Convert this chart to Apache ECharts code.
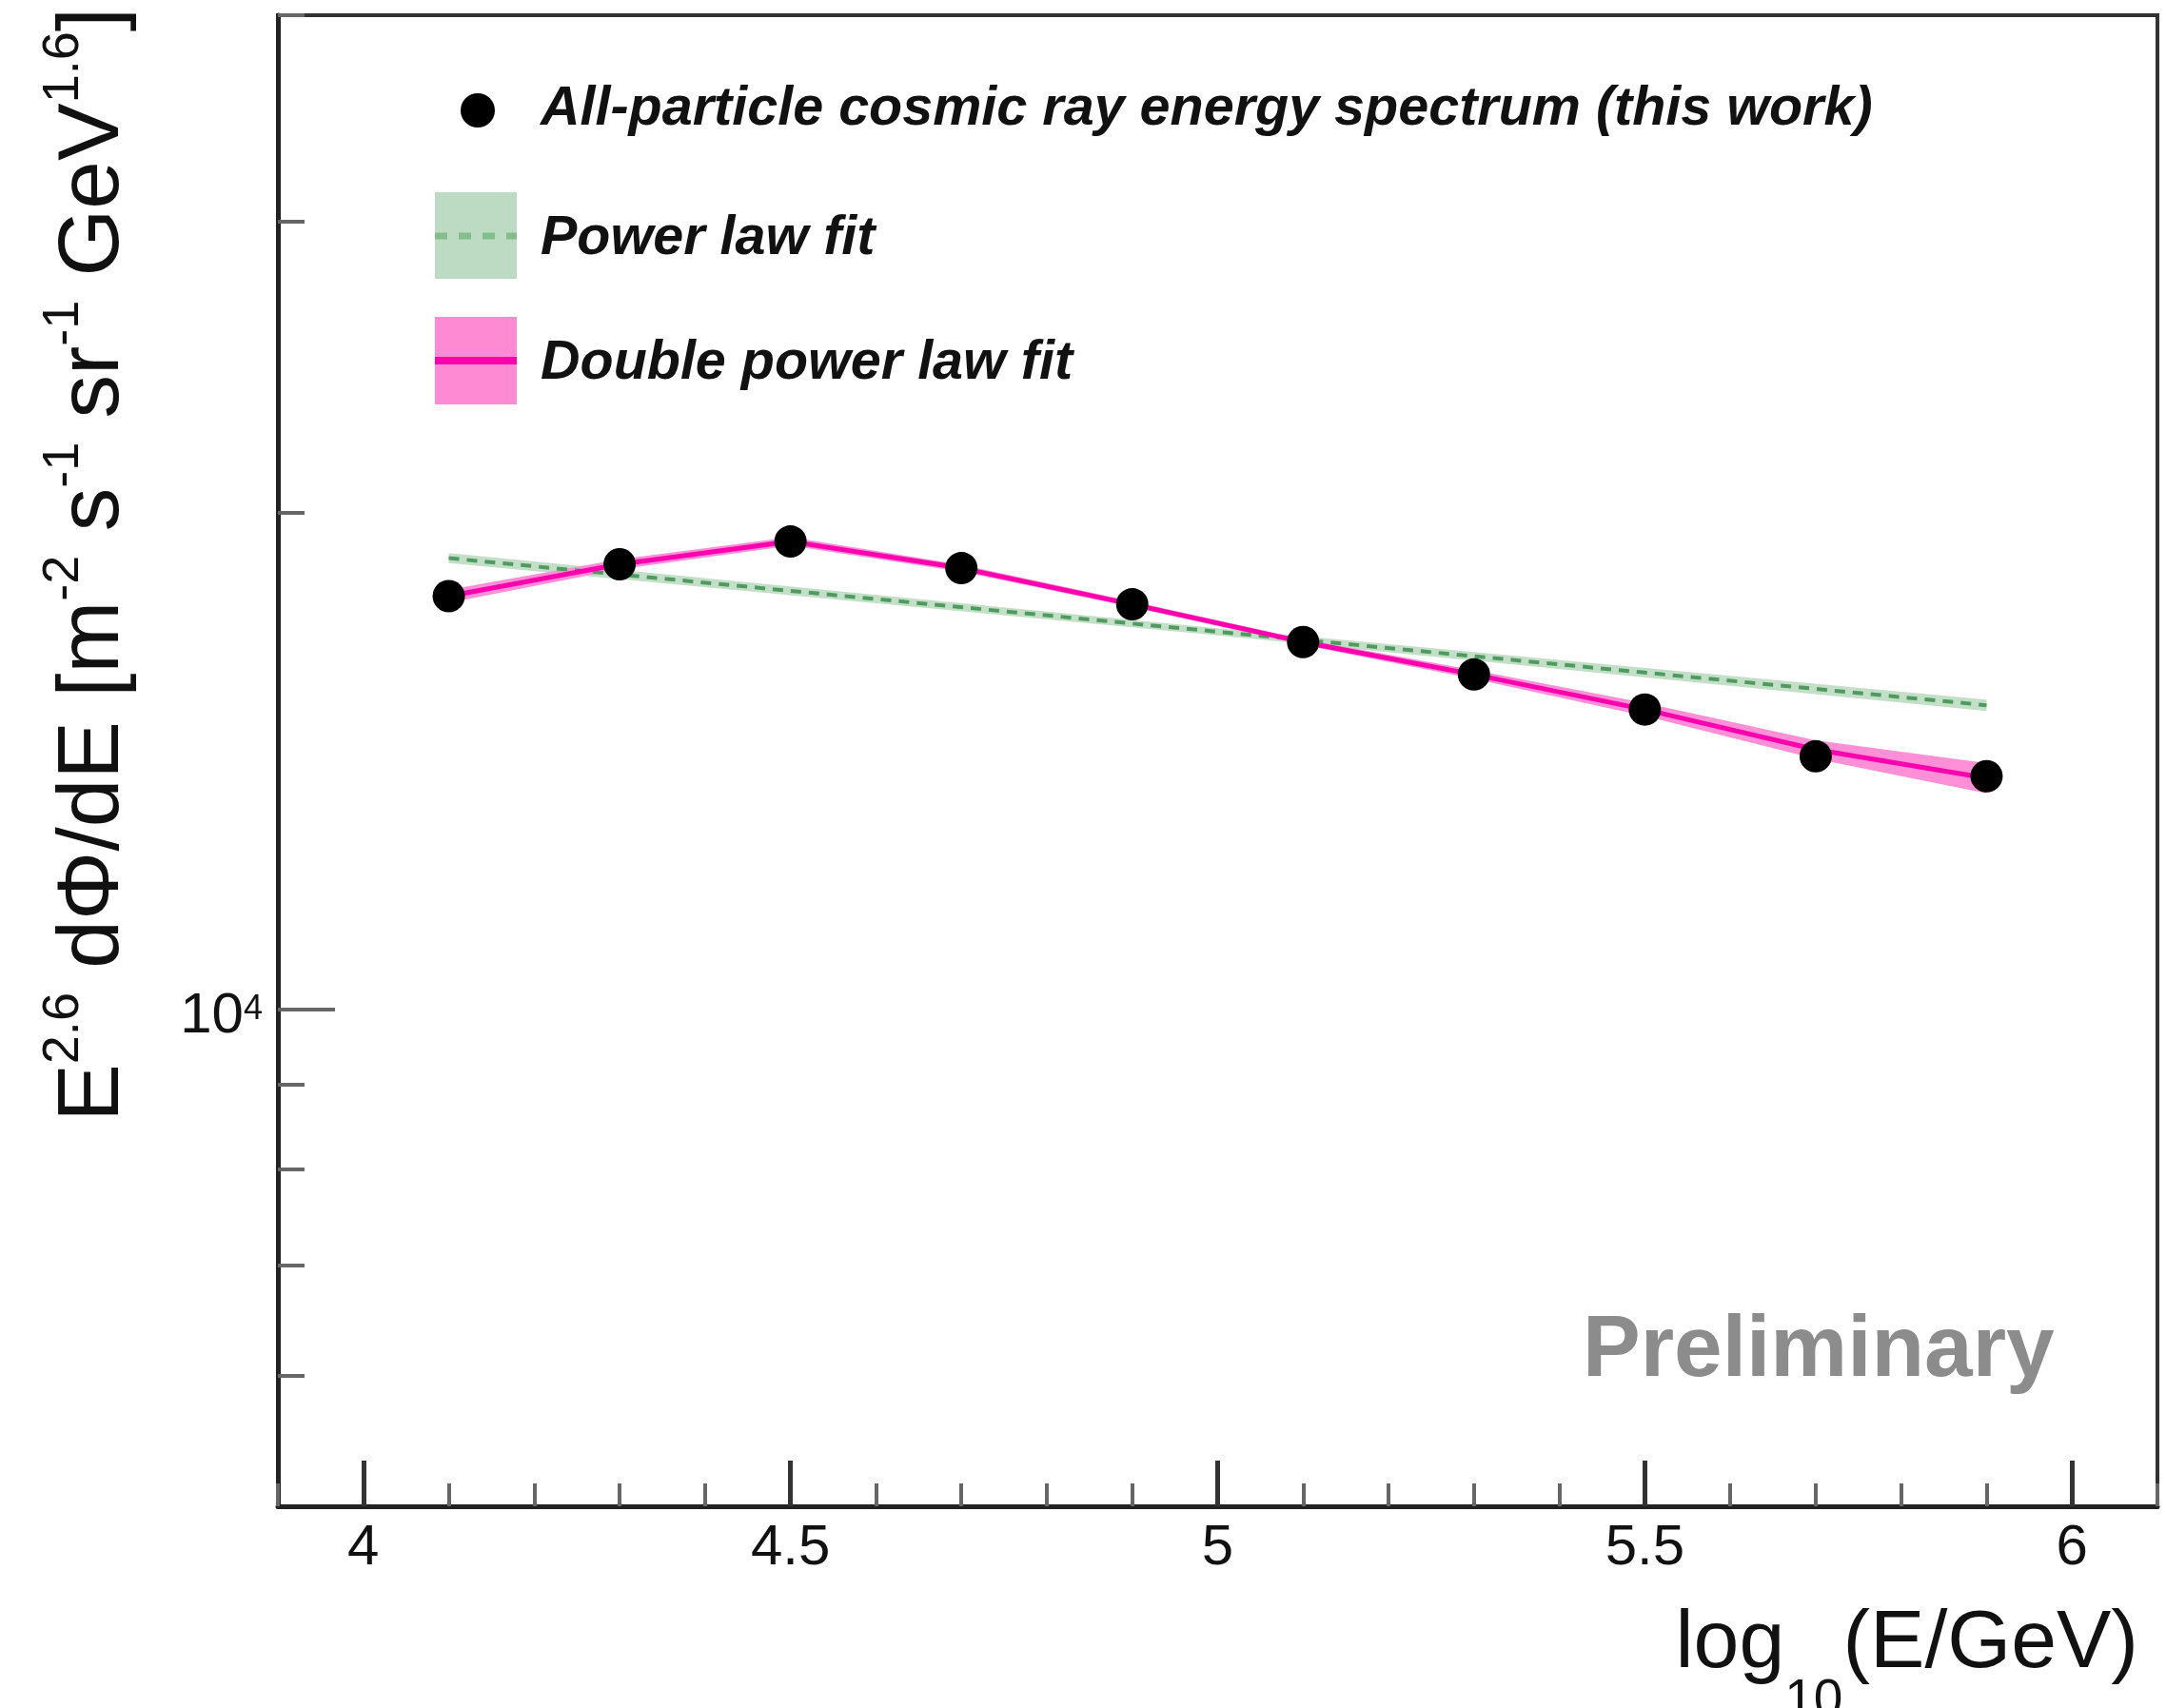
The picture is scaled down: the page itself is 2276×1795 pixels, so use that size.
<!DOCTYPE html>
<html>
<head>
<meta charset="utf-8">
<script src="https://cdn.jsdelivr.net/npm/echarts@6/dist/echarts.min.js"></script>
<style>
html,body{margin:0;padding:0;background:#fff;}
#c{width:2276px;height:1795px;}
</style>
</head>
<body>
<div id="c"></div>
<script>
// ---- data ----
const energyX = [4.1, 4.3, 4.5, 4.7, 4.9, 5.1, 5.3, 5.5, 5.7, 5.9];
const fluxY   = [17790, 18600, 19200, 18500, 17590, 16690, 15950, 15190, 14230, 13840];

const plX    = [4.1, 5.0, 5.9];
const plFit  = [18760, 16930, 15280];
const plLow  = [18630, 16845, 15160];
const plHigh = [18890, 17015, 15400];

const dplX    = [4.1, 4.3, 4.5, 4.7, 4.9, 5.1, 5.3, 5.5, 5.7, 5.9];
const dplFit  = [17790, 18600, 19200, 18500, 17590, 16690, 15950, 15190, 14365, 13805];
const dplLow  = [17630, 18470, 19085, 18410, 17520, 16623, 15854, 15053, 14180, 13515];
const dplHigh = [17950, 18730, 19315, 18590, 17660, 16757, 16046, 15327, 14550, 14095];

const xMajorTicks = [4, 4.5, 5, 5.5, 6];
const xMinorTicks = [3.9, 4.1, 4.2, 4.3, 4.4, 4.6, 4.7, 4.8, 4.9, 5.1, 5.2, 5.3, 5.4, 5.6, 5.7, 5.8, 5.9, 6.1];
const yMajorTicks = [10000];
const yMinorTicks = [6000, 7000, 8000, 9000, 20000, 30000, 40000];

const legendNames = ['All-particle cosmic ray energy spectrum (this work)', 'Power law fit', 'Double power law fit'];

const FONT = 'Liberation Sans, Arial, Helvetica, sans-serif';

function bandSeries(xs, lo, hi, color, z) {
  return {
    type: 'custom', z: z, silent: true,
    data: xs.map((x, i) => [x, lo[i], hi[i]]),
    encode: { x: 0, y: [1, 2] },
    renderItem: function (params, api) {
      if (params.dataIndex !== 0) return;
      const pts = [];
      for (let i = 0; i < xs.length; i++) pts.push(api.coord([xs[i], hi[i]]));
      for (let i = xs.length - 1; i >= 0; i--) pts.push(api.coord([xs[i], lo[i]]));
      return { type: 'polygon', shape: { points: pts }, style: { fill: color } };
    }
  };
}

const chart = echarts.init(document.getElementById('c'), null, { renderer: 'canvas' });
const gridLeft = 292, gridRight = 9, gridTop = 16, gridBottom = 212;

chart.setOption({
  animation: false,
  backgroundColor: '#fff',
  grid: { left: gridLeft, right: gridRight, top: gridTop, bottom: gridBottom, show: true,
          borderColor: '#333', borderWidth: 4, containLabel: false },
  xAxis: [
    { type: 'value', min: 3.9, max: 6.1, position: 'bottom',
      axisLine: { show: true, onZero: false, lineStyle: { color: '#222', width: 5 } },
      axisTick: { show: true, inside: true, length: 48, customValues: xMajorTicks,
                  lineStyle: { color: '#333', width: 5 } },
      axisLabel: { show: true, customValues: xMajorTicks, margin: 14, fontSize: 60,
                   fontFamily: FONT, color: '#111' },
      splitLine: { show: false } },
    { type: 'value', min: 3.9, max: 6.1, position: 'bottom',
      axisLine: { show: false, onZero: false },
      axisTick: { show: true, inside: true, length: 24, customValues: xMinorTicks,
                  lineStyle: { color: '#666', width: 4 } },
      axisLabel: { show: false },
      splitLine: { show: false } }
  ],
  yAxis: [
    { type: 'log', logBase: 10, min: 5000, max: 40000, position: 'left',
      axisLine: { show: true, onZero: false, lineStyle: { color: '#222', width: 5 } },
      axisTick: { show: true, inside: true, length: 60, customValues: yMajorTicks,
                  lineStyle: { color: '#666', width: 4 } },
      axisLabel: { show: true, customValues: yMajorTicks, margin: 16,
                   formatter: function (v) { return '{b|10}{e|' + Math.round(Math.log10(v)) + '}'; },
                   rich: {
                     b: { fontSize: 60, fontFamily: FONT, color: '#111', lineHeight: 76, verticalAlign: 'bottom' },
                     e: { fontSize: 36, fontFamily: FONT, color: '#111', lineHeight: 36, verticalAlign: 'middle' }
                   } },
      splitLine: { show: false } },
    { type: 'log', logBase: 10, min: 5000, max: 40000, position: 'left',
      axisLine: { show: false, onZero: false },
      axisTick: { show: true, inside: true, length: 28, customValues: yMinorTicks,
                  lineStyle: { color: '#666', width: 4 } },
      axisLabel: { show: false },
      splitLine: { show: false } }
  ],
  series: [
    bandSeries(plX, plLow, plHigh, '#c3dfc8', 1),
    bandSeries(dplX, dplLow, dplHigh, '#ff8fd6', 2),
    { type: 'line', name: legendNames[1], z: 3, data: plX.map((x, i) => [x, plFit[i]]),
      symbol: 'none', lineStyle: { color: '#4f9a5f', width: 4, type: [11, 8] } },
    { type: 'line', name: legendNames[2], z: 4, data: dplX.map((x, i) => [x, dplFit[i]]),
      symbol: 'none', lineStyle: { color: '#ff00ae', width: 5 } },
    { type: 'scatter', name: legendNames[0], z: 5, data: energyX.map((x, i) => [x, fluxY[i]]),
      symbol: 'circle', symbolSize: 34, itemStyle: { color: '#000', opacity: 1 } }
  ],
  graphic: [
    // legend
    { type: 'circle', shape: { cx: 502, cy: 116, r: 18 }, style: { fill: '#000' }, z: 10 },
    { type: 'rect', shape: { x: 457, y: 202, width: 86, height: 91 }, style: { fill: '#bddbc2' }, z: 10 },
    { type: 'line', shape: { x1: 457, y1: 248, x2: 543, y2: 248 },
      style: { stroke: '#84be8d', lineWidth: 7, lineDash: [13, 12] }, z: 11 },
    { type: 'rect', shape: { x: 457, y: 333, width: 86, height: 92 }, style: { fill: '#ff8ad4' }, z: 10 },
    { type: 'line', shape: { x1: 457, y1: 379, x2: 543, y2: 379 },
      style: { stroke: '#ff00b0', lineWidth: 8 }, z: 11 },
    { type: 'text', x: 568, y: 115, z: 10, style: { text: legendNames[0], fontSize: 57.5, fontWeight: 'bold',
      fontStyle: 'italic', fontFamily: FONT, fill: '#111', verticalAlign: 'middle', align: 'left' } },
    { type: 'text', x: 568, y: 251, z: 10, style: { text: legendNames[1], fontSize: 57.5, fontWeight: 'bold',
      fontStyle: 'italic', fontFamily: FONT, fill: '#111', verticalAlign: 'middle', align: 'left' } },
    { type: 'text', x: 568, y: 382, z: 10, style: { text: legendNames[2], fontSize: 57.5, fontWeight: 'bold',
      fontStyle: 'italic', fontFamily: FONT, fill: '#111', verticalAlign: 'middle', align: 'left' } },
    // Preliminary
    { type: 'text', x: 1663, y: 1421, z: 10, style: { text: 'Preliminary', fontSize: 91, fontWeight: 'bold',
      fontFamily: FONT, fill: '#8c8c8c', verticalAlign: 'middle', align: 'left' } },
    // y axis title
    { type: 'text', x: 40, y: 8, rotation: Math.PI / 2, z: 10,
      style: { text: '{m|E}{s|2.6}{m| dΦ/dE [m}{s|-2}{m| s}{s|-1}{m| sr}{s|-1}{m| GeV}{s|1.6}{m|]}',
        align: 'right', verticalAlign: 'top', fill: '#111',
        rich: {
          m: { fontSize: 91, fontFamily: FONT, fill: '#111', lineHeight: 117, verticalAlign: 'middle' },
          s: { fontSize: 54, fontFamily: FONT, fill: '#111', lineHeight: 54, verticalAlign: 'top' }
        } } },
    // x axis title
    { type: 'text', x: 2247, y: 1685, z: 10,
      style: { text: '{m|log}{sub|10}{m|(E/GeV)}', align: 'right', verticalAlign: 'top', fill: '#111',
        rich: {
          m: { fontSize: 86, fontFamily: FONT, fill: '#111', lineHeight: 90, verticalAlign: 'top' },
          sub: { fontSize: 55, fontFamily: FONT, fill: '#111', lineHeight: 130, verticalAlign: 'bottom' }
        } } }
  ]
});
</script>
</body>
</html>
